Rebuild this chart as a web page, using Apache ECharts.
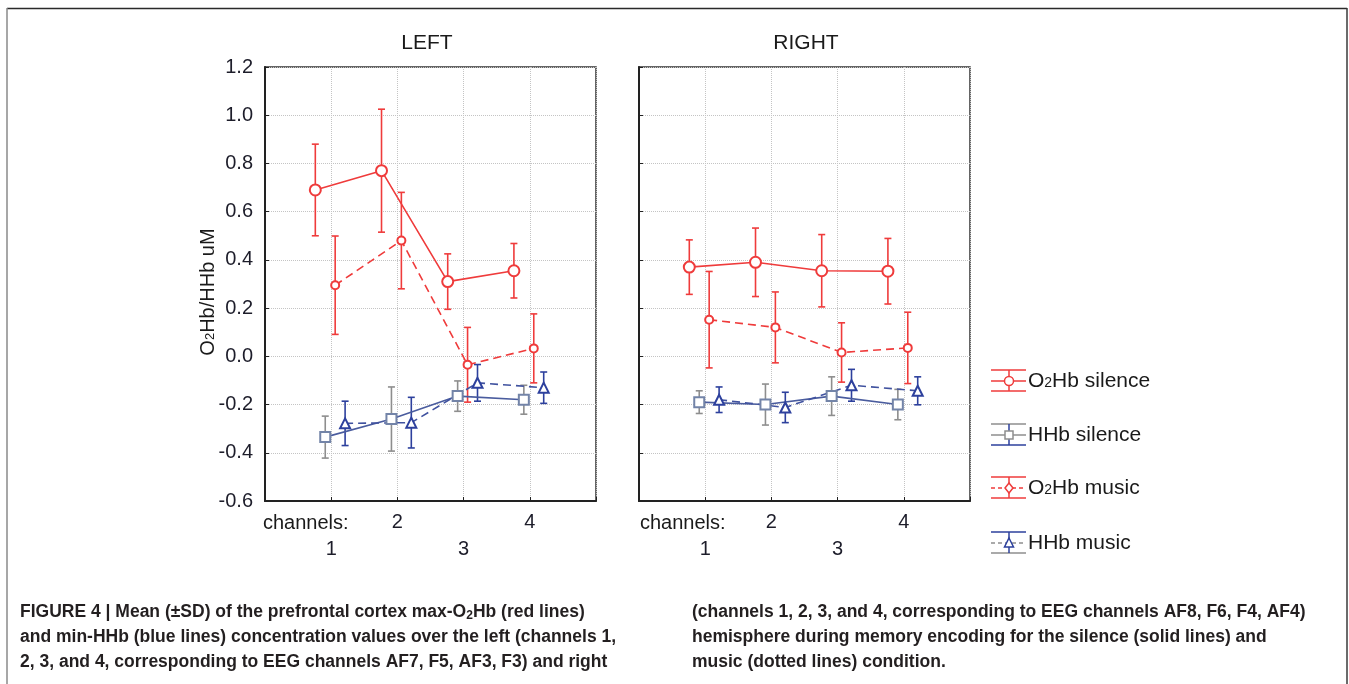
<!DOCTYPE html>
<html>
<head>
<meta charset="utf-8">
<title>Figure 4</title>
<script src="https://cdn.jsdelivr.net/npm/echarts@6/dist/echarts.min.js"></script>
<style>
  html, body { margin: 0; padding: 0; background: #fff; }
  #chart { width: 1349px; height: 684px; }
</style>
</head>
<body>
<div id="chart"></div>
<script>
// channels on the x axis, y ticks from -0.6 to 1.2
var channels = [1, 2, 3, 4];
var yTicks = [-0.6, -0.4, -0.2, 0.0, 0.2, 0.4, 0.6, 0.8, 1.0, 1.2];
var seriesNames = ['O2Hb silence', 'HHb silence', 'O2Hb music', 'HHb music'];

// LEFT hemisphere: means and SD
var leftO2Silence = [0.69, 0.77, 0.31, 0.355];
var leftO2SilenceSD = [0.19, 0.255, 0.115, 0.113];
var leftHHbSilence = [-0.335, -0.26, -0.165, -0.18];
var leftHHbSilenceSD = [0.087, 0.133, 0.063, 0.06];
var leftO2Music = [0.295, 0.48, -0.035, 0.033];
var leftO2MusicSD = [0.204, 0.2, 0.155, 0.143];
var leftHHbMusic = [-0.278, -0.275, -0.11, -0.13];
var leftHHbMusicSD = [0.092, 0.105, 0.076, 0.065];

// RIGHT hemisphere
var rightO2Silence = [0.37, 0.39, 0.355, 0.353];
var rightO2SilenceSD = [0.113, 0.142, 0.15, 0.136];
var rightHHbSilence = [-0.19, -0.2, -0.165, -0.2];
var rightHHbSilenceSD = [0.047, 0.085, 0.08, 0.063];
var rightO2Music = [0.152, 0.12, 0.016, 0.035];
var rightO2MusicSD = [0.2, 0.147, 0.123, 0.148];
var rightHHbMusic = [-0.18, -0.212, -0.12, -0.143];
var rightHHbMusicSD = [0.053, 0.063, 0.066, 0.058];

var RED = '#ef3b3b', BLUE = '#2d409d', GRAY = '#8e8e8e';

// look of each series (offset = horizontal dodge inside a channel)
var looks = [
  { off: -0.24, line: RED, mark: RED, bar: RED, symbol: 'emptyCircle', size: 11, type: 'solid' },
  { off: -0.09, line: '#4a5c9e', mark: '#7384a8', bar: GRAY, symbol: 'emptyRect', size: 10, type: 'solid' },
  { off: 0.06, line: RED, mark: RED, bar: RED, symbol: 'emptyCircle', size: 8, type: [8, 5] },
  { off: 0.21, line: '#40529f', mark: BLUE, bar: BLUE, symbol: 'emptyTriangle', size: 10, type: [8, 5] }
];

var panels = [
  { means: [leftO2Silence, leftHHbSilence, leftO2Music, leftHHbMusic],
    sds: [leftO2SilenceSD, leftHHbSilenceSD, leftO2MusicSD, leftHHbMusicSD] },
  { means: [rightO2Silence, rightHHbSilence, rightO2Music, rightHHbMusic],
    sds: [rightO2SilenceSD, rightHHbSilenceSD, rightO2MusicSD, rightHHbMusicSD] }
];

function renderErr(params, api) {
  var x = api.value(0);
  var top = api.coord([x, api.value(2)]);
  var bot = api.coord([x, api.value(1)]);
  var c = api.visual('color');
  var cap = 3.5;
  function seg(x1, y1, x2, y2) {
    return { type: 'line', shape: { x1: x1, y1: y1, x2: x2, y2: y2 }, style: { stroke: c, lineWidth: 1.6 } };
  }
  return {
    type: 'group',
    children: [
      seg(top[0], top[1], bot[0], bot[1]),
      seg(top[0] - cap, top[1], top[0] + cap, top[1]),
      seg(bot[0] - cap, bot[1], bot[0] + cap, bot[1])
    ]
  };
}

var series = [];
panels.forEach(function (p, pi) {
  seriesNames.forEach(function (name, si) {
    var lk = looks[si];
    series.push({
      name: name,
      type: 'custom',
      xAxisIndex: pi, yAxisIndex: pi,
      renderItem: renderErr,
      itemStyle: { color: lk.bar },
      encode: { x: 0, y: [1, 2] },
      z: 2,
      silent: true,
      data: channels.map(function (c, i) {
        return [c + lk.off, p.means[si][i] - p.sds[si][i], p.means[si][i] + p.sds[si][i]];
      })
    });
    series.push({
      name: name,
      type: 'line',
      xAxisIndex: pi, yAxisIndex: pi,
      symbol: lk.symbol,
      symbolSize: lk.size,
      itemStyle: { color: lk.mark, borderWidth: 1.6 },
      lineStyle: { color: lk.line, width: 1.6, type: lk.type },
      z: 3,
      data: channels.map(function (c, i) { return [c + lk.off, p.means[si][i]]; })
    });
  });
});

function xAxis(idx) {
  return {
    type: 'value', gridIndex: idx, min: 0, max: 5, interval: 1,
    axisLine: { onZero: false, lineStyle: { color: '#222', width: 2 } },
    axisTick: { inside: true, length: 4, lineStyle: { color: '#222' } },
    splitLine: { show: true, lineStyle: { color: '#c4c4c4', type: 'dotted' } },
    axisLabel: {
      margin: 8, fontSize: 20, lineHeight: 27, color: '#1d1d2a', fontFamily: 'Liberation Sans',
      formatter: function (v) {
        if (v < 1 || v > 4) return '';
        return v % 2 ? '\n' + v : '' + v;
      }
    }
  };
}

function yAxis(idx) {
  return {
    type: 'value', gridIndex: idx, min: yTicks[0], max: yTicks[yTicks.length - 1], interval: 0.2,
    axisLine: { onZero: false, lineStyle: { color: '#222', width: 2 } },
    axisTick: { inside: true, length: 4, lineStyle: { color: '#222' } },
    splitLine: { show: true, lineStyle: { color: '#c4c4c4', type: 'dotted' } },
    axisLabel: {
      show: idx === 0, margin: 12, fontSize: 20, color: '#1d1d2a', fontFamily: 'Liberation Sans',
      formatter: function (v) { return v.toFixed(1); }
    }
  };
}

// legend, drawn by hand: error bar icon + marker + label
function legendItem(y, name, top, bottom, mid, midDash, vert, sym, symColor) {
  var x0 = 991, x1 = 1026, xc = 1009;
  var kids = [
    { type: 'line', shape: { x1: x0, y1: y - 11, x2: x1, y2: y - 11 }, style: { stroke: top, lineWidth: 1.5 } },
    { type: 'line', shape: { x1: x0, y1: y + 10, x2: x1, y2: y + 10 }, style: { stroke: bottom, lineWidth: 1.5 } },
    { type: 'line', shape: { x1: xc, y1: y - 11, x2: xc, y2: y + 10 }, style: { stroke: vert, lineWidth: 1.5 } },
    { type: 'line', shape: { x1: x0, y1: y, x2: x1, y2: y }, style: { stroke: mid, lineWidth: 1.5, lineDash: midDash } }
  ];
  if (sym === 'circle') kids.push({ type: 'circle', shape: { cx: xc, cy: y, r: 4.5 }, style: { fill: '#fff', stroke: symColor, lineWidth: 1.5 } });
  if (sym === 'diamond') kids.push({ type: 'polygon', shape: { points: [[xc, y - 5], [xc + 4, y], [xc, y + 5], [xc - 4, y]] }, style: { fill: '#fff', stroke: symColor, lineWidth: 1.5 } });
  if (sym === 'rect') kids.push({ type: 'rect', shape: { x: xc - 4, y: y - 4, width: 8, height: 8 }, style: { fill: '#fff', stroke: symColor, lineWidth: 1.5 } });
  if (sym === 'triangle') kids.push({ type: 'polygon', shape: { points: [[xc, y - 5], [xc + 4.5, y + 4], [xc - 4.5, y + 4]] }, style: { fill: '#fff', stroke: symColor, lineWidth: 1.5 } });
  kids.push({ type: 'text', x: 1028, y: y, style: { text: name, fontSize: 21, fontFamily: 'Liberation Sans', fill: '#1a1a1a', verticalAlign: 'middle',
    rich: { a: { fontSize: 21, fontFamily: 'Liberation Sans', fill: '#1a1a1a' }, s: { fontSize: 14, fontFamily: 'Liberation Sans', fill: '#1a1a1a', padding: [5, 0, 0, 0] } } } });
  return { type: 'group', children: kids };
}

var capRich = {
  b: { fontSize: 17.5, fontWeight: 'bold', fontFamily: 'Liberation Sans', fill: '#231f20' },
  s: { fontSize: 12, fontWeight: 'bold', fontFamily: 'Liberation Sans', fill: '#231f20', padding: [8, 0, 0, 0] }
};
var capLines = [
  [20, 612, '{b|FIGURE 4 | Mean (±SD) of the prefrontal cortex max-O}{s|2}{b|Hb (red lines)}'],
  [20, 637, '{b|and min-HHb (blue lines) concentration values over the left (channels 1,}'],
  [20, 662, '{b|2, 3, and 4, corresponding to EEG channels AF7, F5, AF3, F3) and right}'],
  [692, 612, '{b|(channels 1, 2, 3, and 4, corresponding to EEG channels AF8, F6, F4, AF4)}'],
  [692, 637, '{b|hemisphere during memory encoding for the silence (solid lines) and}'],
  [692, 662, '{b|music (dotted lines) condition.}']
];

var graphic = [
  { type: 'line', shape: { x1: 7, y1: 8.5, x2: 1347, y2: 8.5 }, style: { stroke: '#2a2a2a', lineWidth: 1.5 } },
  { type: 'line', shape: { x1: 7, y1: 8, x2: 7, y2: 684 }, style: { stroke: '#8a8a8a', lineWidth: 1.5 } },
  { type: 'line', shape: { x1: 1347, y1: 8, x2: 1347, y2: 684 }, style: { stroke: '#3a3a3a', lineWidth: 1.5 } },
  { type: 'text', x: 208, y: 292, rotation: Math.PI / 2,
    style: { text: '{a|O}{s|2}{a|Hb/HHb uM}', align: 'center', verticalAlign: 'middle',
      rich: { a: { fontSize: 20, fontFamily: 'Liberation Sans', fill: '#1a1a1a' }, s: { fontSize: 13, fontFamily: 'Liberation Sans', fill: '#1a1a1a', padding: [5, 0, 0, 0] } } } },
  { type: 'text', x: 263, y: 523, style: { text: 'channels:', fontSize: 20, fontFamily: 'Liberation Sans', fill: '#1a1a1a', verticalAlign: 'middle' } },
  { type: 'text', x: 640, y: 523, style: { text: 'channels:', fontSize: 20, fontFamily: 'Liberation Sans', fill: '#1a1a1a', verticalAlign: 'middle' } },
  legendItem(381, '{a|O}{s|2}{a|Hb silence}', RED, RED, RED, null, RED, 'circle', RED),
  legendItem(435, '{a|HHb silence}', GRAY, BLUE, GRAY, null, BLUE, 'rect', GRAY),
  legendItem(488, '{a|O}{s|2}{a|Hb music}', RED, RED, RED, [4, 3], RED, 'diamond', RED),
  legendItem(543, '{a|HHb music}', BLUE, GRAY, GRAY, [4, 3], BLUE, 'triangle', BLUE)
];
capLines.forEach(function (l) {
  graphic.push({ type: 'text', x: l[0], y: l[1], style: { text: l[2], verticalAlign: 'middle', rich: capRich } });
});

var myChart = echarts.init(document.getElementById('chart'));
var option = {
  backgroundColor: '#fff',
  animation: false,
  title: [
    { text: 'LEFT', left: 422, top: 28, textAlign: 'center', textStyle: { fontSize: 21, fontWeight: 'normal', color: '#1a1a1a', fontFamily: 'Liberation Sans' } },
    { text: 'RIGHT', left: 801, top: 28, textAlign: 'center', textStyle: { fontSize: 21, fontWeight: 'normal', color: '#1a1a1a', fontFamily: 'Liberation Sans' } }
  ],
  grid: [
    { left: 265, top: 67, width: 331, height: 434, show: true, borderColor: '#333', borderWidth: 1.5 },
    { left: 639, top: 67, width: 331, height: 434, show: true, borderColor: '#333', borderWidth: 1.5 }
  ],
  xAxis: [xAxis(0), xAxis(1)],
  yAxis: [yAxis(0), yAxis(1)],
  series: series,
  graphic: graphic
};
myChart.setOption(option);
</script>
</body>
</html>
